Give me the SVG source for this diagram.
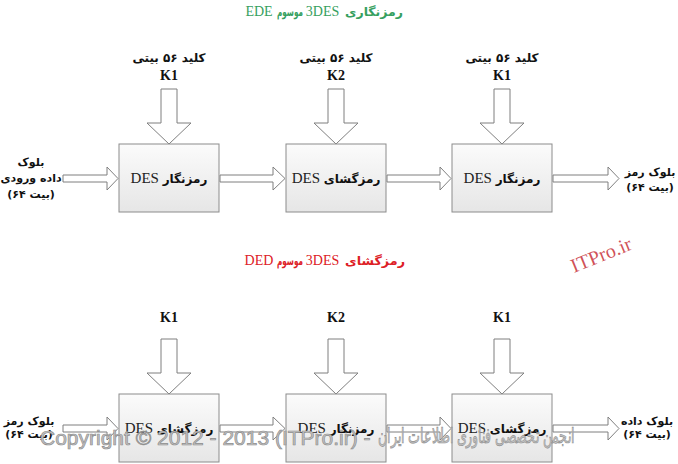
<svg xmlns="http://www.w3.org/2000/svg" width="678" height="464" viewBox="0 0 678 464">
<defs>
<linearGradient id="boxg" x1="0" y1="0" x2="0" y2="1">
<stop offset="0" stop-color="#fbfbfb"/>
<stop offset="1" stop-color="#e6e6e6"/>
</linearGradient>
<style>
.box{fill:url(#boxg);stroke:#8c8c8c;stroke-width:1}
.arr{fill:#ffffff;stroke:#7f7f7f;stroke-width:1;stroke-linejoin:miter}
.fa{font-family:"DejaVu Sans",sans-serif;font-weight:bold;font-size:12px;fill:#111}
.side{font-family:"DejaVu Sans",sans-serif;font-weight:bold;font-size:11px;fill:#111}
.lat{font-family:"Liberation Serif",serif;font-size:15px;fill:#222}
.key{font-family:"Liberation Serif",serif;font-weight:bold;font-size:14px;fill:#111}
.mid{text-anchor:middle}
.tl{font-family:"Liberation Serif",serif;font-size:14px}
.tf{font-family:"DejaVu Sans",sans-serif;font-weight:bold;font-size:12px}
.wm{font-family:"Liberation Sans",sans-serif;font-size:21px;fill:#c4c4c4;stroke:#8e8e8e;stroke-width:0.7}
</style>
</defs>
<rect width="678" height="464" fill="#ffffff"/>

<g id="title-ede" fill="#36a060" text-anchor="middle">
<text class="tl" x="259" y="16">EDE</text>
<text class="tf" x="290" y="16" textLength="26" lengthAdjust="spacingAndGlyphs">موسوم</text>
<text class="tl" x="322.5" y="16">3DES</text>
<text class="tf" x="374" y="16" textLength="58" lengthAdjust="spacingAndGlyphs">رمزنگاری</text>
</g>
<g id="title-ded" fill="#dd2026" text-anchor="middle">
<text class="tl" x="259" y="265">DED</text>
<text class="tf" x="290" y="265" textLength="26" lengthAdjust="spacingAndGlyphs">موسوم</text>
<text class="tl" x="322.5" y="265">3DES</text>
<text class="tf" x="375" y="265" textLength="60" lengthAdjust="spacingAndGlyphs">رمزگشای</text>
</g>

<g id="connectors">
<path class="arr" d="M161,89 H177 V123 H191 L169,144 L147,123 H161 Z"/>
<path class="arr" d="M328,89 H344 V123 H358 L336,144 L314,123 H328 Z"/>
<path class="arr" d="M494,89 H510 V123 H524 L502,144 L480,123 H494 Z"/>
<path class="arr" d="M63,175 H107 V167 L118,178.5 L107,190 V182 H63 Z"/>
<path class="arr" d="M220,175 H273 V167 L285,178.5 L273,190 V182 H220 Z"/>
<path class="arr" d="M387,175 H440 V167 L451,178.5 L440,190 V182 H387 Z"/>
<path class="arr" d="M553,175 H608 V167 L619,178.5 L608,190 V182 H553 Z"/>
<path class="arr" d="M161,339 H177 V373 H191 L169,394 L147,373 H161 Z"/>
<path class="arr" d="M328,339 H344 V373 H358 L336,394 L314,373 H328 Z"/>
<path class="arr" d="M494,339 H510 V373 H524 L502,394 L480,373 H494 Z"/>
<path class="arr" d="M63,425 H107 V417 L118,428.5 L107,440 V432 H63 Z"/>
<path class="arr" d="M220,425 H273 V417 L285,428.5 L273,440 V432 H220 Z"/>
<path class="arr" d="M387,425 H440 V417 L451,428.5 L440,440 V432 H387 Z"/>
<path class="arr" d="M553,425 H608 V417 L619,428.5 L608,440 V432 H553 Z"/>
</g>

<g id="key1">
<text class="fa mid" x="169" y="62">کلید ۵۶ بیتی</text>
<text class="key mid" x="169" y="80">K1</text>
</g>
<g id="key2">
<text class="fa mid" x="336" y="62">کلید ۵۶ بیتی</text>
<text class="key mid" x="336" y="80">K2</text>
</g>
<g id="key3">
<text class="fa mid" x="502" y="62">کلید ۵۶ بیتی</text>
<text class="key mid" x="502" y="80">K1</text>
</g>

<g id="input-block">
<text class="side mid" x="31" y="166">بلوک</text>
<text class="side mid" x="31" y="182">داده ورودی</text>
<text class="side mid" x="31" y="198">&#x200E;(۶۴ بیت)</text>
</g>
<g id="enc1">
<rect class="box" x="119" y="144" width="100" height="68"/>
<text class="lat mid" x="169" y="183">DES <tspan class="fa" font-size="13px">رمزنگار</tspan></text>
</g>
<g id="dec2">
<rect class="box" x="286" y="144" width="100" height="68"/>
<text class="lat mid" x="336" y="183">DES <tspan class="fa" font-size="13px">رمزگشای</tspan></text>
</g>
<g id="enc3">
<rect class="box" x="452" y="144" width="100" height="68"/>
<text class="lat mid" x="502" y="183">DES <tspan class="fa" font-size="13px">رمزنگار</tspan></text>
</g>
<g id="cipher-block">
<text class="side mid" x="650" y="176">بلوک رمز</text>
<text class="side mid" x="650" y="191">&#x200E;(۶۴ بیت)</text>
</g>

<g id="key4"><text class="key mid" x="169" y="322">K1</text></g>
<g id="key5"><text class="key mid" x="336" y="322">K2</text></g>
<g id="key6"><text class="key mid" x="502" y="322">K1</text></g>

<g id="cipher-in">
<text class="side mid" x="29" y="425">بلوک رمز</text>
<text class="side mid" x="29" y="438">&#x200E;(۶۴ بیت)</text>
</g>
<g id="dec4">
<rect class="box" x="119" y="394" width="100" height="68"/>
<text class="lat mid" x="169" y="433">DES <tspan class="fa" font-size="13px">رمزگشای</tspan></text>
</g>
<g id="enc5">
<rect class="box" x="286" y="394" width="100" height="68"/>
<text class="lat mid" x="336" y="433">DES <tspan class="fa" font-size="13px">رمزنگار</tspan></text>
</g>
<g id="dec6">
<rect class="box" x="452" y="394" width="100" height="68"/>
<text class="lat mid" x="502" y="433">DES <tspan class="fa" font-size="13px">رمزگشای</tspan></text>
</g>
<g id="data-out">
<text class="side mid" x="647" y="425">بلوک داده</text>
<text class="side mid" x="647" y="438">&#x200E;(۶۴ بیت)</text>
</g>

<text x="574" y="273" transform="rotate(-22 574 273)" font-family="Liberation Serif, serif" font-size="20" fill="#c8333a" fill-opacity="0.85">ITPro.ir</text>

<g id="watermark">
<text class="wm" x="40" y="445">Copyright © 2012 - 2013 (ITPro.ir) -</text>
<text class="wm" x="476.5" y="443" text-anchor="middle" font-family="DejaVu Sans, sans-serif" font-size="15px" font-weight="normal" textLength="197" lengthAdjust="spacingAndGlyphs">انجمن تخصصی فناوری اطلاعات ایران</text>
</g>
</svg>
